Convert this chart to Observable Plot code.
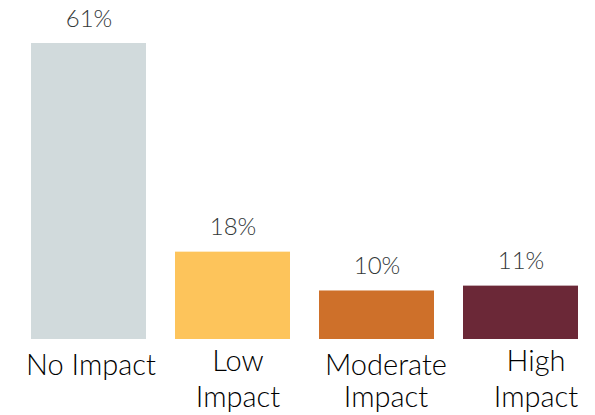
<!DOCTYPE html>
<html>
<head>
<meta charset="utf-8">
<script src="https://cdn.jsdelivr.net/npm/d3@7"></script>
<script src="https://cdn.jsdelivr.net/npm/@observablehq/plot@0.6"></script>
<style>
  html, body { margin: 0; padding: 0; background: #fff; }
  #chart svg { display: block; }
</style>
</head>
<body>
<div id="chart"></div>
<script>
// ---- data ----
const categories = ["No Impact", "Low Impact", "Moderate Impact", "High Impact"];
const labelLines = ["No Impact", "Low\nImpact", "Moderate\nImpact", "High\nImpact"];
const values = [61, 18, 10, 11];
const valueLabels = ["61%", "18%", "10%", "11%"];
const colors = ["#D1DADC", "#FDC45B", "#CE702A", "#6B2837"];

const data = categories.map((c, i) => ({
  category: c, value: values[i], label: valueLabels[i], lines: labelLines[i]
}));

// per-label layout tweaks (style only)
const catStyle = {
  "No Impact":       {dx: 2,  dy: 15, lineHeight: 1.0},
  "Low Impact":      {dx: 5,  dy: 6,  lineHeight: 1.24},
  "Moderate Impact": {dx: 9,  dy: 12, lineHeight: 1.12},
  "High Impact":     {dx: 15, dy: 6,  lineHeight: 1.24}
};

const font = "Lato, 'Open Sans', sans-serif";

const chart = Plot.plot({
  width: 595,
  height: 415,
  marginTop: 43,
  marginBottom: 76,
  marginLeft: 15.6,
  marginRight: 2.2,
  style: {fontFamily: font, background: "#fff"},
  x: {domain: categories, paddingInner: 0.2, paddingOuter: 0.1, axis: null},
  y: {domain: [0, 61], axis: null},
  color: {domain: categories, range: colors},
  marks: [
    Plot.barY(data, {x: "category", y: "value", fill: "category"}),
    Plot.text(data, {
      x: "category", y: "value", text: "label",
      lineAnchor: "bottom", dy: -17,
      fontSize: 24, fontWeight: 300, fill: "#333838", fontFamily: font
    }),
    ...categories.map(c => Plot.text(data.filter(d => d.category === c), {
      x: "category", y: () => 0, text: "lines",
      lineAnchor: "top", dx: catStyle[c].dx, dy: catStyle[c].dy,
      lineHeight: catStyle[c].lineHeight,
      fontSize: 29, fontWeight: 300, fill: "#000", fontFamily: font
    }))
  ]
});

document.getElementById("chart").appendChild(chart);
</script>
</body>
</html>
